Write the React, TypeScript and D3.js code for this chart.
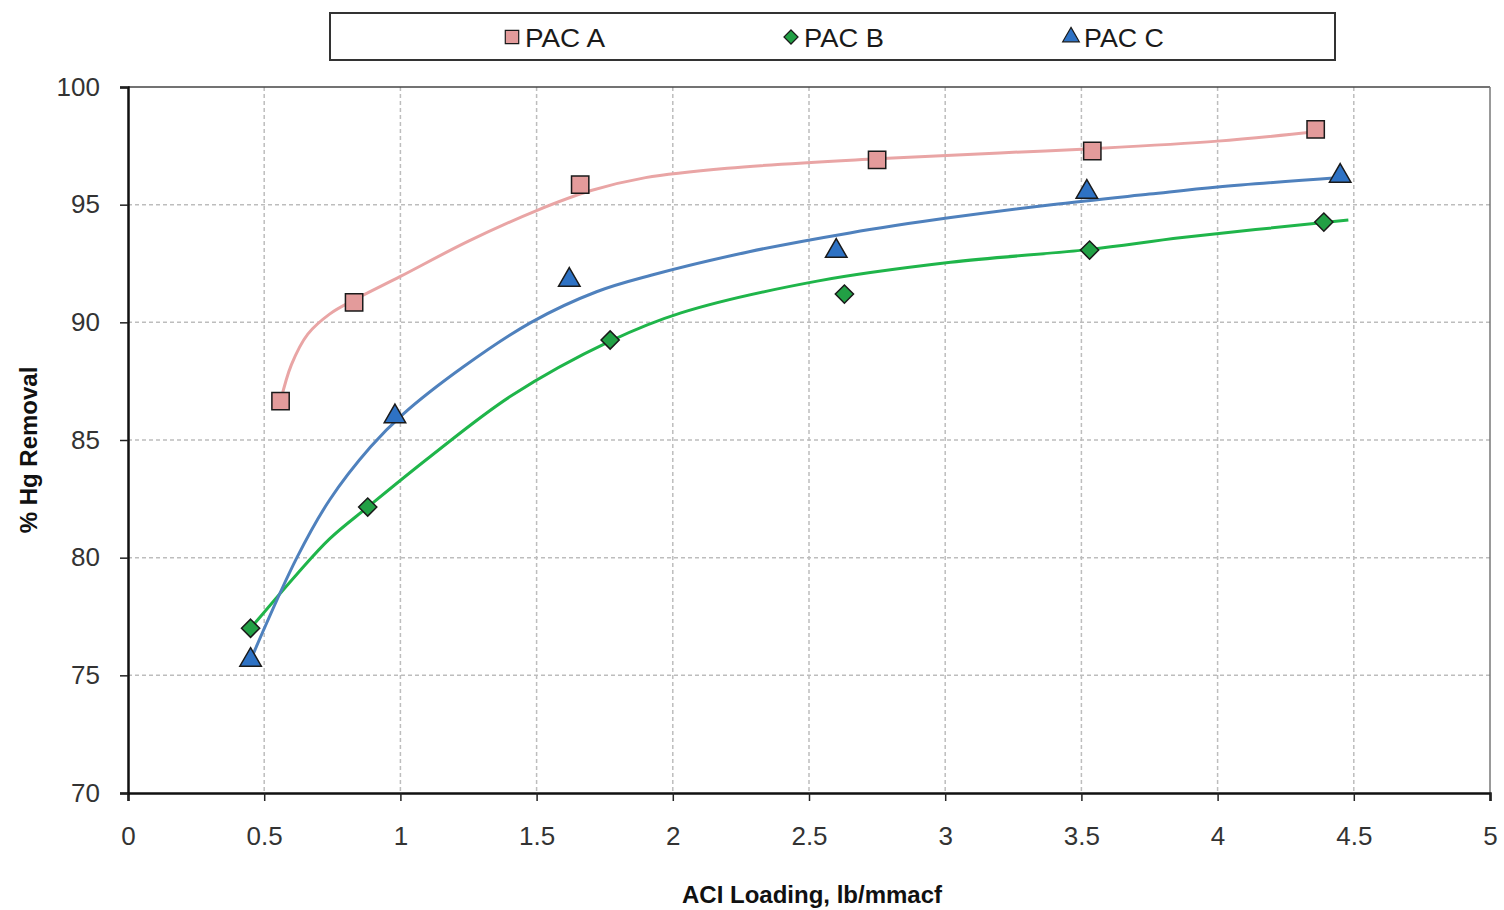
import React, { useEffect, useRef } from 'react';
import * as d3 from 'd3';

// Measured points
const pacA_x = [0.56, 0.83, 1.66, 2.75, 3.54, 4.36];
const pacA_y = [86.65, 90.85, 95.85, 96.9, 97.28, 98.2];
const pacB_x = [0.45, 0.88, 1.77, 2.63, 3.53, 4.39];
const pacB_y = [77.0, 82.15, 89.25, 91.2, 93.07, 94.26];
const pacC_x = [0.45, 0.98, 1.62, 2.6, 3.52, 4.45];
const pacC_y = [75.65, 86.0, 91.8, 93.03, 95.54, 96.22];

// Fitted curves
const fitA_x = [0.56, 0.6, 0.66, 0.74, 0.83, 1.0, 1.25, 1.5, 1.7, 1.9, 2.2, 2.75, 3.2, 3.54, 4.0, 4.36];
const fitA_y = [86.65, 88.2, 89.5, 90.35, 90.95, 91.95, 93.45, 94.75, 95.6, 96.15, 96.55, 96.95, 97.2, 97.38, 97.7, 98.1];
const fitB_x = [0.45, 0.62, 0.74, 0.88, 1.11, 1.41, 1.77, 2.03, 2.53, 3.02, 3.53, 3.87, 4.48];
const fitB_y = [77.0, 79.3, 80.8, 82.15, 84.3, 86.9, 89.2, 90.4, 91.75, 92.55, 93.1, 93.6, 94.35];
const fitC_x = [0.45, 0.62, 0.74, 0.89, 1.01, 1.23, 1.48, 1.72, 1.92, 2.28, 2.65, 3.02, 3.39, 3.75, 4.0, 4.45];
const fitC_y = [75.65, 80.0, 82.45, 84.7, 86.1, 88.1, 90.0, 91.3, 92.0, 93.0, 93.8, 94.45, 95.0, 95.45, 95.75, 96.15];

const xTicks = [0, 0.5, 1, 1.5, 2, 2.5, 3, 3.5, 4, 4.5, 5];
const yTicks = [70, 75, 80, 85, 90, 95, 100];

const seriesNames = ['PAC A', 'PAC B', 'PAC C'];

// square turned on its corner, like the spreadsheet diamond marker
const symbolRhomb = {
    draw(context, size) {
        const r = Math.sqrt(size) / Math.SQRT2;
        context.moveTo(0, -r);
        context.lineTo(r, 0);
        context.lineTo(0, r);
        context.lineTo(-r, 0);
        context.closePath();
    }
};

const App = () => {
    const svgRef = useRef(null);

    useEffect(() => {
        document.body.style.margin = '0';
        const svg = d3.select(svgRef.current);
        svg.selectAll('*').remove();

        const left = 128, right = 1490, top = 87, bottom = 793;
        const x = d3.scaleLinear().domain([0, 5]).range([left, right]);
        const y = d3.scaleLinear().domain([70, 100]).range([bottom, top]);
        const font = "'Liberation Sans', Arial, sans-serif";

        svg.append('rect').attr('width', 1504).attr('height', 910).attr('fill', '#fff');

        // Grid
        const grid = svg.append('g');
        xTicks.slice(1, -1).forEach(t => {
            grid.append('line')
                .attr('x1', x(t)).attr('x2', x(t)).attr('y1', top).attr('y2', bottom)
                .attr('stroke', '#bdbdbd').attr('stroke-width', 1.5).attr('stroke-dasharray', '4,3');
        });
        yTicks.slice(1, -1).forEach(t => {
            grid.append('line')
                .attr('x1', left).attr('x2', right).attr('y1', y(t)).attr('y2', y(t))
                .attr('stroke', '#bdbdbd').attr('stroke-width', 1.5).attr('stroke-dasharray', '4,3');
        });

        // Frame
        svg.append('line').attr('x1', left).attr('x2', right).attr('y1', top).attr('y2', top)
            .attr('stroke', '#444').attr('stroke-width', 1.5);
        svg.append('line').attr('x1', right).attr('x2', right).attr('y1', top).attr('y2', bottom)
            .attr('stroke', '#777').attr('stroke-width', 1.5);

        // Axes
        const xAxis = svg.append('g')
            .attr('transform', `translate(0,${bottom})`)
            .call(d3.axisBottom(x).tickValues(xTicks).tickSize(8).tickPadding(26).tickFormat(d3.format('')));
        const yAxis = svg.append('g')
            .attr('transform', `translate(${left},0)`)
            .call(d3.axisLeft(y).tickValues(yTicks).tickSize(8).tickPadding(20).tickFormat(d3.format('')));
        [xAxis, yAxis].forEach(a => {
            a.select('.domain').attr('stroke', '#111').attr('stroke-width', 2.5);
            a.selectAll('.tick line').attr('stroke', '#222').attr('stroke-width', 1.5);
            a.selectAll('.tick text')
                .style('font-family', font).style('font-size', '26px').attr('fill', '#333');
        });
        xAxis.selectAll('.tick text').attr('dy', '0.71em');

        // Titles
        svg.append('text')
            .attr('x', (left + right) / 2 + 3).attr('y', 903)
            .attr('text-anchor', 'middle')
            .style('font-family', font).style('font-size', '24px').style('font-weight', 'bold')
            .attr('fill', '#111')
            .text('ACI Loading, lb/mmacf');
        svg.append('text')
            .attr('transform', `translate(37,${450}) rotate(-90)`)
            .attr('text-anchor', 'middle')
            .style('font-family', font).style('font-size', '24px').style('font-weight', 'bold')
            .attr('fill', '#111')
            .text('% Hg Removal');

        // Curves
        const line = d3.line().x(d => x(d[0])).y(d => y(d[1])).curve(d3.curveCatmullRom.alpha(0.5));
        const fits = [
            { xs: fitA_x, ys: fitA_y, color: '#e9a5a5' },
            { xs: fitB_x, ys: fitB_y, color: '#1fb54a' },
            { xs: fitC_x, ys: fitC_y, color: '#4f81bd' },
        ];
        fits.forEach(f => {
            svg.append('path')
                .datum(f.xs.map((v, i) => [v, f.ys[i]]))
                .attr('fill', 'none')
                .attr('stroke', f.color)
                .attr('stroke-width', 3)
                .attr('d', line);
        });

        // Markers
        const markers = [
            { xs: pacA_x, ys: pacA_y, sym: d3.symbolSquare, size: 300, fill: '#e39b9b' },
            { xs: pacB_x, ys: pacB_y, sym: symbolRhomb, size: 165, fill: '#22a045' },
            { xs: pacC_x, ys: pacC_y, sym: d3.symbolTriangle, size: 200, fill: '#2e72c4' },
        ];
        markers.forEach(m => {
            svg.append('g').selectAll('path')
                .data(m.xs.map((v, i) => [v, m.ys[i]]))
                .enter()
                .append('path')
                .attr('d', d3.symbol().type(m.sym).size(m.size))
                .attr('transform', d => `translate(${x(d[0])},${y(d[1])})`)
                .attr('fill', m.fill)
                .attr('stroke', '#1a1a1a')
                .attr('stroke-width', 1.5);
        });

        // Legend
        const legend = svg.append('g');
        legend.append('rect')
            .attr('x', 330).attr('y', 13).attr('width', 1005).attr('height', 47)
            .attr('fill', '#fff').attr('stroke', '#333').attr('stroke-width', 2);
        const legendX = [512, 791, 1071];
        seriesNames.forEach((name, i) => {
            legend.append('path')
                .attr('d', d3.symbol().type(markers[i].sym).size(markers[i].size * 0.6))
                .attr('transform', `translate(${legendX[i]},37)`)
                .attr('fill', markers[i].fill)
                .attr('stroke', '#1a1a1a')
                .attr('stroke-width', 1.2);
            legend.append('text')
                .attr('x', legendX[i] + 13).attr('y', 47)
                .style('font-family', font).style('font-size', '26px')
                .attr('textLength', 80).attr('lengthAdjust', 'spacingAndGlyphs')
                .attr('fill', '#1a1a1a')
                .text(name);
        });
    }, []);

    return (
        <div style={{ width: 1504, height: 910 }}>
            <svg ref={svgRef} width={1504} height={910} style={{ display: 'block' }}></svg>
        </div>
    );
};

export default App;
